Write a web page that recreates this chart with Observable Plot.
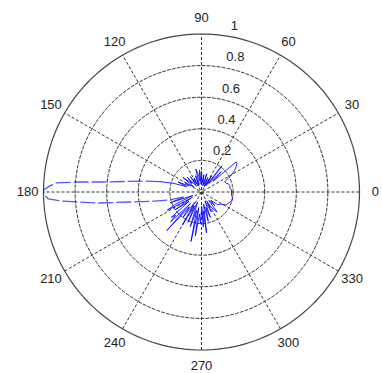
<!DOCTYPE html>
<html>
<head>
<meta charset="utf-8">
<script src="https://cdn.jsdelivr.net/npm/d3@7"></script>
<script src="https://cdn.jsdelivr.net/npm/@observablehq/plot@0.6"></script>
<style>
  html, body { margin: 0; padding: 0; background: #fff; }
  #chart { width: 382px; height: 373px; }
</style>
</head>
<body>
<div id="chart"></div>
<script>
// Angle (degrees) and radius samples of the pattern
const theta = [0, 4, 8, 12, 16, 20, 24, 27, 30, 33, 36, 39, 41, 43, 46, 49, 52, 55, 58, 62,
  66, 70, 74, 78, 82, 86, 90, 93, 95, 98, 101, 104, 107, 110, 114, 118, 122, 126, 130, 134,
  138, 142, 146, 150, 154, 157, 160, 163, 166, 169, 172,
  174.3, 175.4, 176.4, 177.7, 179.3, 180.7, 182.6, 183.7, 186.1, 188.1, 191, 193.6, 196,
  199, 202, 205, 208, 211, 214, 217, 220, 222, 224, 226, 228, 231, 234, 237, 240, 243, 246,
  249, 252, 255, 258, 260, 262, 265, 268, 271, 273, 275, 277, 280, 283, 286, 289, 292, 296,
  300, 304, 308, 311, 314, 318, 322, 327, 331, 335, 340, 344, 348, 352, 356, 360];
const rho = [0.19, 0.19, 0.18, 0.185, 0.18, 0.165, 0.16, 0.19, 0.22, 0.25, 0.27, 0.29, 0.29, 0.10, 0.18, 0.07, 0.21, 0.05, 0.12, 0.04,
  0.10, 0.05, 0.12, 0.04, 0.11, 0.06, 0.13, 0.05, 0.14, 0.07, 0.12, 0.15, 0.05, 0.11, 0.04, 0.10, 0.06, 0.12, 0.05, 0.13,
  0.08, 0.15, 0.06, 0.12, 0.09, 0.16, 0.10, 0.19, 0.27, 0.36, 0.48,
  0.636, 0.79, 0.92, 0.96, 1.0, 1.0, 0.97, 0.888, 0.656, 0.447, 0.30, 0.215, 0.12,
  0.21, 0.06, 0.18, 0.245, 0.08, 0.20, 0.10, 0.25, 0.22, 0.27, 0.10, 0.33, 0.12, 0.20, 0.08, 0.24, 0.10, 0.21,
  0.07, 0.23, 0.12, 0.32, 0.10, 0.28, 0.14, 0.20, 0.09, 0.22, 0.12, 0.26, 0.08, 0.19, 0.10, 0.17, 0.06, 0.14,
  0.08, 0.13, 0.16, 0.07, 0.12, 0.08, 0.13, 0.14, 0.17, 0.18, 0.19, 0.20, 0.20, 0.195, 0.19, 0.19];
// Main lobe (drawn dashed) spans these angles
const lobeFrom = 166, lobeTo = 196;

// Grid definition
const ringValues = [0.2, 0.4, 0.6, 0.8];
const ringLabels = ["0.2", "0.4", "0.6", "0.8", "1"];
const ringLabelValues = [0.2, 0.4, 0.6, 0.8, 1];
const spokeAngles = [30, 60, 90, 120, 150, 180];
const angleLabels = ["0", "30", "60", "90", "120", "150", "180", "210", "240", "270", "300", "330"];
const angleLabelValues = [0, 30, 60, 90, 120, 150, 180, 210, 240, 270, 300, 330];

const rad = (d) => d * Math.PI / 180;
const pts = theta.map((t, i) => ({t, r: rho[i]}));
const lobe = pts.filter(d => d.t >= lobeFrom && d.t <= lobeTo);
const before = pts.filter(d => d.t <= lobeFrom).map(d => ({...d, z: "a"}));
const after = pts.filter(d => d.t >= lobeTo).map(d => ({...d, z: "b"}));

const circleSteps = d3.range(0, 361, 2);
const ringPts = ringValues.flatMap(v => circleSteps.map(a => ({v, a})));
const outerPts = circleSteps.map(a => ({v: 1, a}));

const grid = {stroke: "#333", strokeWidth: 1, strokeDasharray: "3,2"};

const chart = Plot.plot({
  width: 382,
  height: 373,
  margin: 0,
  x: {domain: [-1, 1], range: [43, 359], axis: null},
  y: {domain: [-1, 1], range: [349.5, 33.5], axis: null},
  style: {fontFamily: "'Liberation Sans', Arial, sans-serif", fontSize: "13px", background: "#fff", color: "#222"},
  marks: [
    Plot.line(ringPts, {x: d => d.v * Math.cos(rad(d.a)), y: d => d.v * Math.sin(rad(d.a)), z: "v", ...grid}),
    Plot.link(spokeAngles, {
      x1: a => -Math.cos(rad(a)), y1: a => -Math.sin(rad(a)),
      x2: a => Math.cos(rad(a)), y2: a => Math.sin(rad(a)), ...grid
    }),
    Plot.line(outerPts, {x: d => Math.cos(rad(d.a)), y: d => Math.sin(rad(d.a)), stroke: "#444", strokeWidth: 1.2}),
    Plot.text(ringLabels, {
      x: (d, i) => (ringLabelValues[i] + 0.01) * Math.cos(rad(82)),
      y: (d, i) => (ringLabelValues[i] + 0.01) * Math.sin(rad(82)),
      text: d => d, textAnchor: "start", lineAnchor: "bottom", dx: 7, dy: -4, fill: "#222"
    }),
    Plot.text(angleLabels, {
      x: (d, i) => 1.1 * Math.cos(rad(angleLabelValues[i])),
      y: (d, i) => 1.1 * Math.sin(rad(angleLabelValues[i])),
      text: d => d, textAnchor: "middle", lineAnchor: "middle", fill: "#222"
    }),
    Plot.line([...before, ...after], {
      x: d => d.r * Math.cos(rad(d.t)), y: d => d.r * Math.sin(rad(d.t)), z: "z",
      stroke: "#0000ff", strokeOpacity: 0.85, strokeWidth: 1, curve: "linear"
    }),
    Plot.line(lobe, {
      x: d => d.r * Math.cos(rad(d.t)), y: d => d.r * Math.sin(rad(d.t)),
      stroke: "#2a2aff", strokeOpacity: 0.8, strokeWidth: 1.3, strokeDasharray: "14,4", curve: "linear"
    })
  ]
});
document.getElementById("chart").appendChild(chart);
</script>
</body>
</html>
